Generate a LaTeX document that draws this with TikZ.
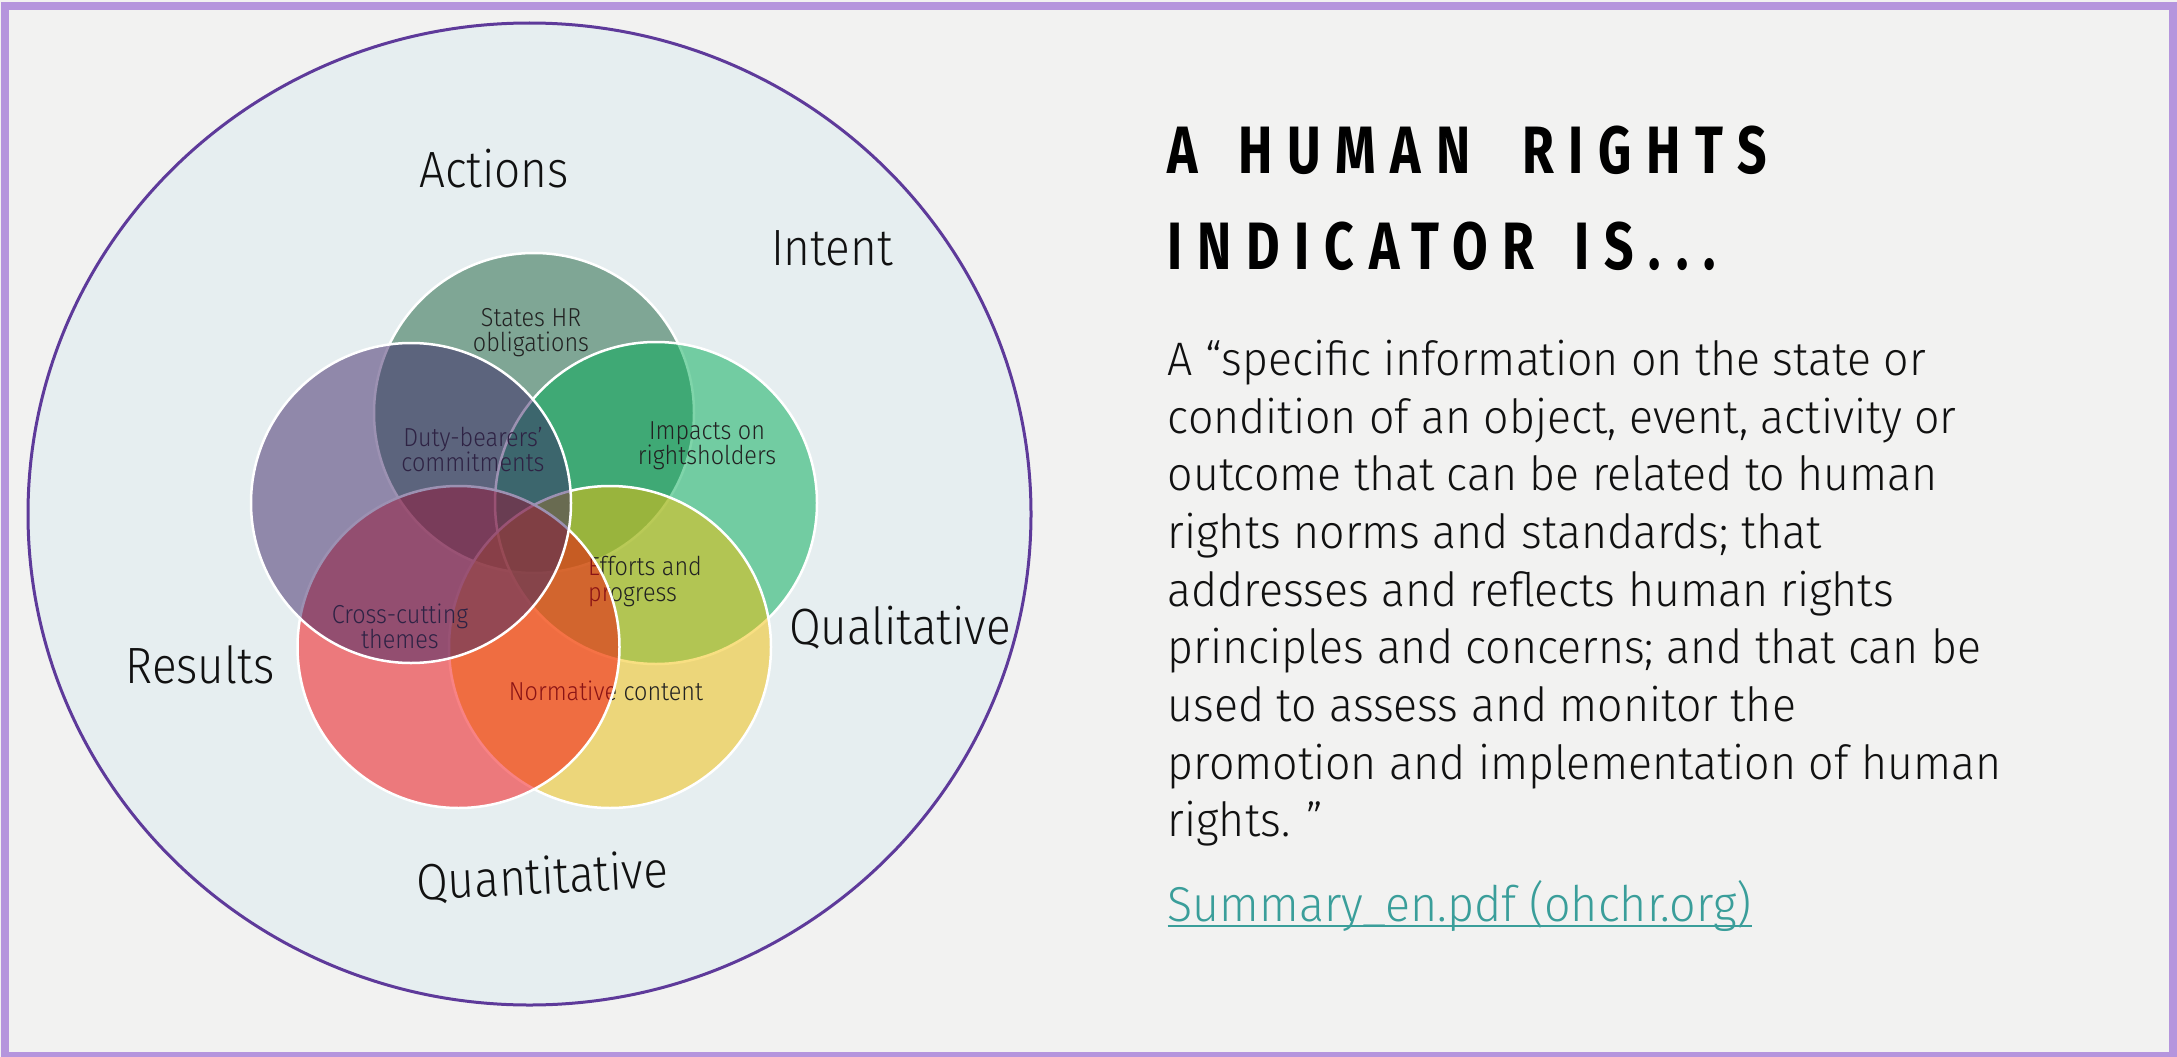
\documentclass[tikz,border=0pt]{standalone}
\usepackage{fontspec}
\setmainfont{Fira Sans}[UprightFont={* Light}, FakeStretch=0.9]
\newfontfamily\bodyfont{Fira Sans}[UprightFont={* Light}, FakeStretch=0.95]
\newfontfamily\headfont{Fira Sans}[UprightFont={* Bold}, FakeStretch=0.77, LetterSpace=22]
\newcommand\headgap{\hspace{40pt}}

\definecolor{pagebg}{HTML}{F2F2F1}
\definecolor{framec}{HTML}{B595DD}
\definecolor{ringfill}{HTML}{E6EEF0}
\definecolor{ringline}{HTML}{5E3A9A}
\definecolor{sagec}{RGB}{25,96,60}
\definecolor{greenc}{RGB}{0,172,86}
\definecolor{yellowc}{RGB}{243,192,6}
\definecolor{redc}{RGB}{243,6,10}
\definecolor{purplec}{RGB}{59,36,102}
\definecolor{linkc}{HTML}{3A9E9A}
\definecolor{inktext}{HTML}{111111}
\definecolor{labtext}{HTML}{222222}

\begin{document}
\begin{tikzpicture}[x=1pt, y=-1pt,
  outerlab/.style={font=\fontsize{51}{60}\selectfont, text=inktext, inner sep=0pt, anchor=base},
  inlab/.style={font=\fontsize{26}{30}\selectfont, text=labtext, inner sep=0pt, anchor=base},
  bodyline/.style={font=\bodyfont\fontsize{47}{56}\selectfont, text=inktext, inner sep=0pt, anchor=base west},
  linkline/.style={font=\bodyfont\fontsize{49}{58}\selectfont, text=linkc, inner sep=0pt, anchor=base west},
  headline/.style={font=\headfont\fontsize{67}{80}\selectfont, text=black, inner sep=0pt, anchor=base west},
  ring/.style={draw=white, line width=2.5pt, fill opacity=0.5, draw opacity=1}]

% page and frame
\useasboundingbox (0,0) rectangle (2177,1057);
\fill[pagebg] (0,0) rectangle (2177,1057);
\draw[framec, line width=8pt] (5,6.5) rectangle (2173,1056);

% large enclosing circle
\draw[ringline, line width=3pt, fill=ringfill] (529.5,514) ellipse [x radius=501.5pt, y radius=491pt];

% dimension labels
\node[outerlab] (actions) at (494,187) {Actions};
\node[outerlab] (intent) at (832,265) {Intent};
\node[outerlab] (results) at (200,683) {Results};
\node[outerlab] (qualit) at (900,644) {Qualitative};
\node[outerlab, rotate=3] (quantit) at (543,894) {Quantitative};

% overlapping circles, bottom layer first
\draw[ring, fill=sagec] (534,413) circle [radius=160pt];
\node[inlab] (obl1) at (531,326.4) {States HR};
\node[inlab] (obl2) at (531,351.7) {obligations};

\draw[ring, fill=greenc] (656,503) circle [radius=161pt];
\node[inlab] (imp1) at (707,439.7) {Impacts on};
\node[inlab] (imp2) at (707,464.2) {rightsholders};

\draw[ring, fill=yellowc] (610,647) circle [radius=161pt];
\node[inlab, anchor=base west] (eff1) at (588,575.6) {Efforts and};
\node[inlab, anchor=base west] (eff2) at (588,601) {progress};
\node[inlab] (norm) at (606,700) {Normative content};

\draw[ring, fill=redc] (458.5,647) circle [radius=161pt];
\node[inlab] (cross1) at (400,623) {Cross-cutting};
\node[inlab] (cross2) at (400,648) {themes};
\node[inlab] (duty1) at (473,446.2) {Duty-bearers’};
\node[inlab] (duty2) at (473,471) {commitments};

\draw[ring, fill=purplec] (411,503) circle [radius=160pt];

% heading
\node[headline] (head1) at (1167.6,173) {A\headgap HUMAN\hspace{52pt}RIGHTS};
\node[headline] (head2) at (1167.6,269) {INDICATOR\headgap IS...};

% quotation
\node[bodyline] (q1) at (1167.6,375.3) {A “specific information on the state or};
\node[bodyline] (q2) at (1167.6,433.0) {condition of an object, event, activity or};
\node[bodyline] (q3) at (1167.6,490.7) {outcome that can be related to human};
\node[bodyline] (q4) at (1167.6,548.4) {rights norms and standards; that};
\node[bodyline] (q5) at (1167.6,606.1) {addresses and reflects human rights};
\node[bodyline] (q6) at (1167.6,663.8) {principles and concerns; and that can be};
\node[bodyline] (q7) at (1167.6,721.5) {used to assess and monitor the};
\node[bodyline] (q8) at (1167.6,779.2) {promotion and implementation of human};
\node[bodyline] (q9) at (1167.6,836.9) {rights. ”};

% source link
\node[linkline] (src) at (1167.6,921) {Summary\_en.pdf (ohchr.org)};
\draw[linkc, line width=2pt] (src.south west |- 0,925.5) -- (src.south east |- 0,925.5);
\end{tikzpicture}
\end{document}
